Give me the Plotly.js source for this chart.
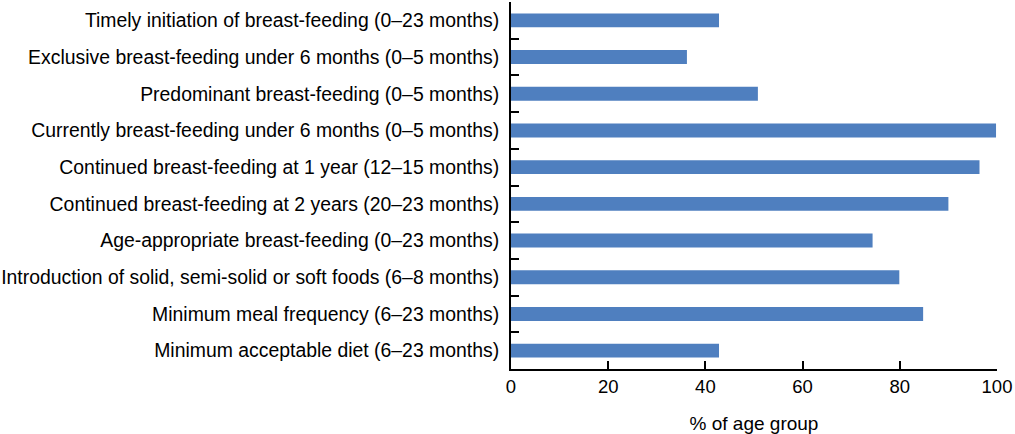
<!DOCTYPE html>
<html>
<head>
<meta charset="utf-8">
<script src="https://cdn.plot.ly/plotly-3.0.1.min.js"></script>
<style>html,body{margin:0;padding:0;background:#fff;}#chart{width:1015px;height:434px;}</style>
</head>
<body>
<div id="chart"></div>
<script>
const categories = [
  "Timely initiation of breast-feeding (0\u201323 months)",
  "Exclusive breast-feeding under 6 months (0\u20135 months)",
  "Predominant breast-feeding (0\u20135 months)",
  "Currently breast-feeding under 6 months (0\u20135 months)",
  "Continued breast-feeding at 1 year (12\u201315 months)",
  "Continued breast-feeding at 2 years (20\u201323 months)",
  "Age-appropriate breast-feeding (0\u201323 months)",
  "Introduction of solid, semi-solid or soft foods (6\u20138 months)",
  "Minimum meal frequency (6\u201323 months)",
  "Minimum acceptable diet (6\u201323 months)"
];
const values = [42.8, 36.2, 50.8, 99.8, 96.4, 90.0, 74.4, 79.9, 84.8, 42.8];
const xTicks = [0, 20, 40, 60, 80, 100];

const trace = {
  type: 'bar',
  orientation: 'h',
  x: values,
  y: categories,
  marker: {color: '#4F7FBF'},
  hoverinfo: 'x+y'
};

const layout = {
  width: 1015,
  height: 434,
  margin: {l: 511, r: 18, t: 2, b: 65, pad: 0},
  paper_bgcolor: '#fff',
  plot_bgcolor: '#fff',
  showlegend: false,
  bargap: 0.62,
  font: {family: 'Liberation Sans, Arial, sans-serif', size: 19, color: '#000'},
  xaxis: {
    range: [0, 100],
    tickvals: xTicks,
    ticktext: xTicks.map(String),
    ticks: 'inside',
    ticklen: 8,
    tickwidth: 2,
    tickcolor: '#000',
    showline: true,
    linecolor: '#000',
    linewidth: 2,
    showgrid: false,
    zeroline: false,
    tickfont: {size: 18.5},
    title: {text: '% of age group', font: {size: 19}, standoff: 20}
  },
  yaxis: {
    type: 'category',
    autorange: 'reversed',
    tickson: 'boundaries',
    ticks: 'inside',
    ticklen: 8,
    tickwidth: 2,
    tickcolor: '#000',
    showline: true,
    linecolor: '#000',
    linewidth: 2,
    showgrid: false,
    zeroline: false,
    ticklabelstandoff: 6,
    tickfont: {size: 19.4}
  }
};

Plotly.newPlot('chart', [trace], layout, {displayModeBar: false, staticPlot: true});
</script>
</body>
</html>
